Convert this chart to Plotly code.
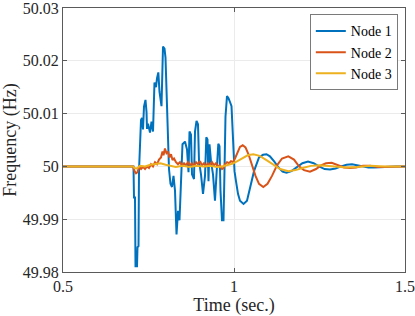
import plotly.graph_objects as go

# ---------------- data ----------------
node1_t = [0.5, 0.7061, 0.7076, 0.7105, 0.7120, 0.7164, 0.7178, 0.7208, 0.7222, 0.7251,
           0.7281, 0.7310, 0.7339, 0.7368, 0.7412, 0.7442, 0.7456, 0.7485, 0.7544, 0.7588,
           0.7632, 0.7675, 0.7719, 0.7749, 0.7787, 0.7822, 0.7880, 0.7924, 0.7968, 0.7997,
           0.8026, 0.8070, 0.8099, 0.8143, 0.8187, 0.8231, 0.8275, 0.8319, 0.8363, 0.8406,
           0.8450, 0.8494, 0.8567, 0.8626, 0.8670, 0.8699, 0.8743, 0.8772, 0.8830, 0.8860,
           0.8904, 0.8947, 0.8977, 0.9035, 0.9094, 0.9152, 0.9190, 0.9225, 0.9254, 0.9284,
           0.9327, 0.9386, 0.9444, 0.9503, 0.9541, 0.9576, 0.9605, 0.9649, 0.9693, 0.9722,
           0.9751, 0.9795, 0.9839, 0.9883, 0.9927, 0.9971, 1.0015, 1.0058, 1.0117, 1.0175,
           1.0278, 1.0380, 1.0468, 1.0585, 1.0731, 1.0850, 1.0950, 1.1050, 1.1180, 1.1300,
           1.1420, 1.1535, 1.1680, 1.1842, 1.2000, 1.2164, 1.2330, 1.2485, 1.2650, 1.2807,
           1.2970, 1.3129, 1.3290, 1.3450, 1.3610, 1.3772, 1.3930, 1.4094, 1.4250, 1.4415,
           1.4737, 1.5]
node1_v = [50.0, 50.0, 49.9941, 49.9941, 49.9811, 49.9811, 49.9847, 49.9849, 49.9991, 50.0047,
           50.0088, 50.0092, 50.0070, 50.0113, 50.0126, 50.0103, 50.0071, 50.0081, 50.0064, 50.0085,
           50.0066, 50.0159, 50.0150, 50.0167, 50.0178, 50.0141, 50.0114, 50.0227, 50.0223, 50.0206,
           50.0141, 50.0053, 49.9995, 49.9967, 49.9961, 49.9982, 49.9954, 49.9871, 49.9916, 49.9898,
           49.9963, 50.0042, 50.0047, 50.0032, 49.9989, 50.0066, 50.0060, 49.9985, 49.9976, 50.0066,
           50.0086, 50.0080, 50.0010, 49.9985, 49.9948, 49.9982, 50.0055, 50.0051, 49.9972, 50.0042,
           50.0010, 49.9985, 49.9935, 49.9991, 50.0043, 50.0038, 49.9954, 49.9898, 49.9898, 49.9991,
           50.0094, 50.0133, 50.0129, 50.0122, 50.0114, 50.0053, 49.9991, 49.9972, 49.9948, 49.9935,
           49.9929, 49.9935, 49.9957, 49.9991, 50.0017, 50.0022, 50.0023, 50.0019, 50.0009, 49.9998,
           49.9990, 49.9988, 49.9991, 49.9999, 50.0006, 50.0009, 50.0006, 50.0000, 49.9995, 49.9994,
           49.9996, 50.0000, 50.0003, 50.0004, 50.0002, 49.9999, 49.9998, 49.9998, 49.9999, 49.9999,
           50.0000, 50.0]

node2_t = [0.5, 0.7047, 0.7091, 0.7135, 0.7178, 0.7222, 0.7281, 0.7339, 0.7398, 0.7456,
           0.7515, 0.7573, 0.7632, 0.7690, 0.7749, 0.7807, 0.7865, 0.7909, 0.7939, 0.7982,
           0.8026, 0.8070, 0.8114, 0.8158, 0.8202, 0.8246, 0.8304, 0.8363, 0.8421, 0.8480,
           0.8538, 0.8596, 0.8655, 0.8713, 0.8772, 0.8830, 0.8889, 0.8947, 0.9006, 0.9064,
           0.9123, 0.9181, 0.9240, 0.9298, 0.9357, 0.9415, 0.9474, 0.9532, 0.9591, 0.9649,
           0.9693, 0.9737, 0.9795, 0.9854, 0.9912, 0.9971, 1.0029, 1.0102, 1.0175, 1.0254,
           1.0336, 1.0424, 1.0526, 1.0629, 1.0731, 1.0857, 1.0980, 1.1111, 1.1257, 1.1404,
           1.1588, 1.1754, 1.1901, 1.2047, 1.2222, 1.2398, 1.2544, 1.2690, 1.2857, 1.3041,
           1.3216, 1.3392, 1.3567, 1.3772, 1.3977, 1.4211, 1.4444, 1.4708, 1.5]
node2_v = [50.0, 50.0, 49.9991, 49.9987, 49.9989, 49.9999, 49.9995, 49.9999, 49.9995, 50.0000,
           49.9997, 50.0004, 50.0000, 50.0008, 50.0004, 50.0013, 50.0017, 50.0028, 50.0021, 50.0034,
           50.0025, 50.0028, 50.0017, 50.0023, 50.0012, 50.0015, 50.0008, 50.0004, 50.0008, 50.0002,
           50.0006, 50.0002, 50.0008, 50.0002, 50.0006, 50.0000, 50.0008, 50.0004, 50.0010, 50.0002,
           50.0006, 50.0000, 50.0006, 50.0002, 50.0008, 50.0002, 50.0006, 50.0000, 50.0002, 49.9995,
           49.9997, 50.0004, 50.0008, 50.0006, 50.0010, 50.0008, 50.0015, 50.0028, 50.0037, 50.0040,
           50.0036, 50.0023, 50.0002, 49.9982, 49.9967, 49.9961, 49.9967, 49.9982, 50.0002, 50.0015,
           50.0019, 50.0013, 50.0000, 49.9993, 49.9990, 49.9995, 50.0002, 50.0006, 50.0007, 50.0003,
           49.9998, 49.9997, 49.9998, 50.0001, 50.0001, 49.9999, 49.9999, 50.0, 50.0]

node3_t = [0.5, 0.705, 0.709, 0.716, 0.725, 0.74, 0.755, 0.77, 0.785, 0.80,
           0.815, 0.83, 0.85, 0.87, 0.89, 0.91, 0.93, 0.95, 0.965, 0.98,
           0.995, 1.01, 1.025, 1.04, 1.0565, 1.075, 1.095, 1.115, 1.135, 1.159,
           1.18, 1.20, 1.225, 1.25, 1.275, 1.30, 1.33, 1.36, 1.40, 1.44, 1.5]
node3_v = [50.0, 50.0, 49.9997, 49.9996, 50.0001, 50.0000, 50.0003, 50.0004, 50.0006, 50.0003,
           50.0001, 49.9999, 50.0001, 49.9999, 50.0001, 50.0000, 50.0001, 49.9999, 50.0000, 50.0003,
           50.0005, 50.0010, 50.0016, 50.0021, 50.0023, 50.0020, 50.0012, 50.0003, 49.9995, 49.9991,
           49.9993, 49.9997, 50.0001, 50.0002, 50.0001, 49.9999, 49.9998, 49.9999, 50.0001, 50.0000, 50.0]

series_names = ["Node 1", "Node 2", "Node 3"]
x_ticks = [0.5, 1, 1.5]
x_tick_labels = ["0.5", "1", "1.5"]
y_ticks = [49.98, 49.99, 50, 50.01, 50.02, 50.03]
y_tick_labels = ["49.98", "49.99", "50", "50.01", "50.02", "50.03"]

colors = ["#0072BD", "#D95319", "#EDB120"]
FONT = "Liberation Serif"

fig = go.Figure()
for t, v, name, c in zip([node1_t, node2_t, node3_t], [node1_v, node2_v, node3_v],
                         series_names, colors):
    fig.add_trace(go.Scatter(x=t, y=v, mode="lines", name=name,
                             line=dict(color=c, width=2)))

axis_common = dict(showline=True, linecolor="#5a5a5a", linewidth=1, mirror="ticks",
                   ticks="inside", ticklen=4, tickcolor="#5a5a5a", automargin=False,
                   ticklabeloverflow="allow",
                   showgrid=True, gridcolor="#ebebeb", gridwidth=1, zeroline=False,
                   tickfont=dict(family=FONT, size=16, color="#262626"))

fig.update_xaxes(range=[0.5, 1.500001], tickvals=x_ticks, ticktext=x_tick_labels,
                 title=dict(text="Time (sec.)", font=dict(family=FONT, size=18, color="#262626")),
                 **axis_common)
fig.update_yaxes(range=[49.98, 50.030001], tickvals=y_ticks, ticktext=y_tick_labels,
                 title=dict(text="Frequency (Hz)", font=dict(family=FONT, size=18, color="#262626")),
                 **axis_common)

fig.update_layout(
    width=415, height=316,
    margin=dict(l=63, r=10, t=8, b=44),
    plot_bgcolor="white", paper_bgcolor="white",
    showlegend=True,
    legend=dict(x=0.979, y=0.976, xanchor="right", yanchor="top",
                bgcolor="white", bordercolor="#7a7a7a", borderwidth=1,
                font=dict(family=FONT, size=14, color="#000000"),
                tracegroupgap=0, itemwidth=30),
)

fig.write_html("out.html", config={"displayModeBar": False},
               post_script="document.body.style.margin='0px';")
